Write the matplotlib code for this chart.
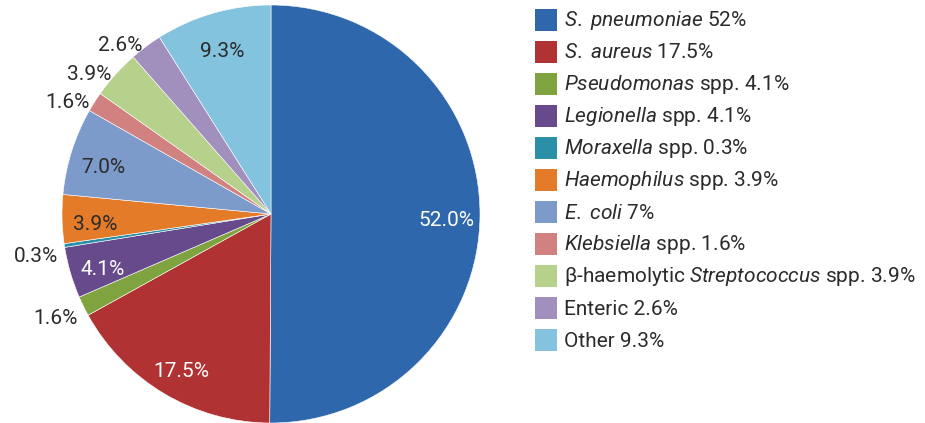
import matplotlib
matplotlib.use("Agg")
import matplotlib.pyplot as plt
from matplotlib.patches import Rectangle
import numpy as np

plt.rcParams['font.family'] = ['Roboto', 'DejaVu Sans']
plt.rcParams['mathtext.fontset'] = 'custom'
plt.rcParams['mathtext.rm'] = 'Roboto'
plt.rcParams['mathtext.it'] = 'Roboto:italic'

# slice values (as printed on the pie)
values = [52.0, 17.5, 1.6, 4.1, 0.3, 3.9, 7.0, 1.6, 3.9, 2.6, 9.3]
pie_labels = ["52.0%", "17.5%", "1.6%", "4.1%", "0.3%", "3.9%", "7.0%", "1.6%", "3.9%", "2.6%", "9.3%"]
legend_labels = [
    r"$\mathit{S.}$ $\mathit{pneumoniae}$ 52%",
    r"$\mathit{S.}$ $\mathit{aureus}$ 17.5%",
    r"$\mathit{Pseudomonas}$ spp. 4.1%",
    r"$\mathit{Legionella}$ spp. 4.1%",
    r"$\mathit{Moraxella}$ spp. 0.3%",
    r"$\mathit{Haemophilus}$ spp. 3.9%",
    r"$\mathit{E.}$ $\mathit{coli}$ 7%",
    r"$\mathit{Klebsiella}$ spp. 1.6%",
    r"β-haemolytic $\mathit{Streptococcus}$ spp. 3.9%",
    r"Enteric 2.6%",
    r"Other 9.3%",
]
colors = ["#2E67AC", "#B03232", "#7FA33E", "#664A8C", "#2B8FA8", "#E47B28",
          "#7C9BCA", "#D08180", "#B6D18C", "#A18FBE", "#83C3DD"]
label_inside = [True, True, False, True, False, True, True, False, False, False, True]
label_color = ["white", "white", "#2b2b2b", "white", "#2b2b2b", "#2b2b2b",
               "#2b2b2b", "#2b2b2b", "#2b2b2b", "#2b2b2b", "#2b2b2b"]

W, H = 925, 423
fig = plt.figure(figsize=(W / 100, H / 100), dpi=100)
cx, cy, R = 271, 214, 209
ax = fig.add_axes([(cx - R) / W, (H - cy - R) / H, 2 * R / W, 2 * R / H])
wedges, _ = ax.pie(values, colors=colors, startangle=90, counterclock=False,
                   radius=1, wedgeprops=dict(edgecolor="white", linewidth=0.4))
ax.set_xlim(-1, 1)
ax.set_ylim(-1, 1)
ax.set_aspect("equal")
ax.axis("off")

for w, lab, inside, col in zip(wedges, pie_labels, label_inside, label_color):
    mid = np.deg2rad((w.theta1 + w.theta2) / 2)
    if inside:
        r, ha, dy = 0.84, "center", -4.5
    else:
        r, ha = 1.03, "right"
        dy = -3 if np.sin(mid) > 0 else -7
    ax.annotate(lab, (r * np.cos(mid), r * np.sin(mid)), xytext=(0, dy),
                textcoords="offset points", ha=ha, va="center",
                fontsize=15, color=col, annotation_clip=False)

# legend
x0, y0, step, sq = 535, 20, 32, 22
for i, (lab, col) in enumerate(zip(legend_labels, colors)):
    yc = y0 + i * step
    fig.patches.append(Rectangle((x0 / W, (H - yc - sq / 2) / H), sq / W, sq / H,
                                 transform=fig.transFigure, facecolor=col, edgecolor="none"))
    fig.text((x0 + sq + 7) / W, (H - yc - 1) / H, lab, ha="left", va="center",
             fontsize=15, color="#2b2b2b")

fig.savefig("out.png", dpi=100)
